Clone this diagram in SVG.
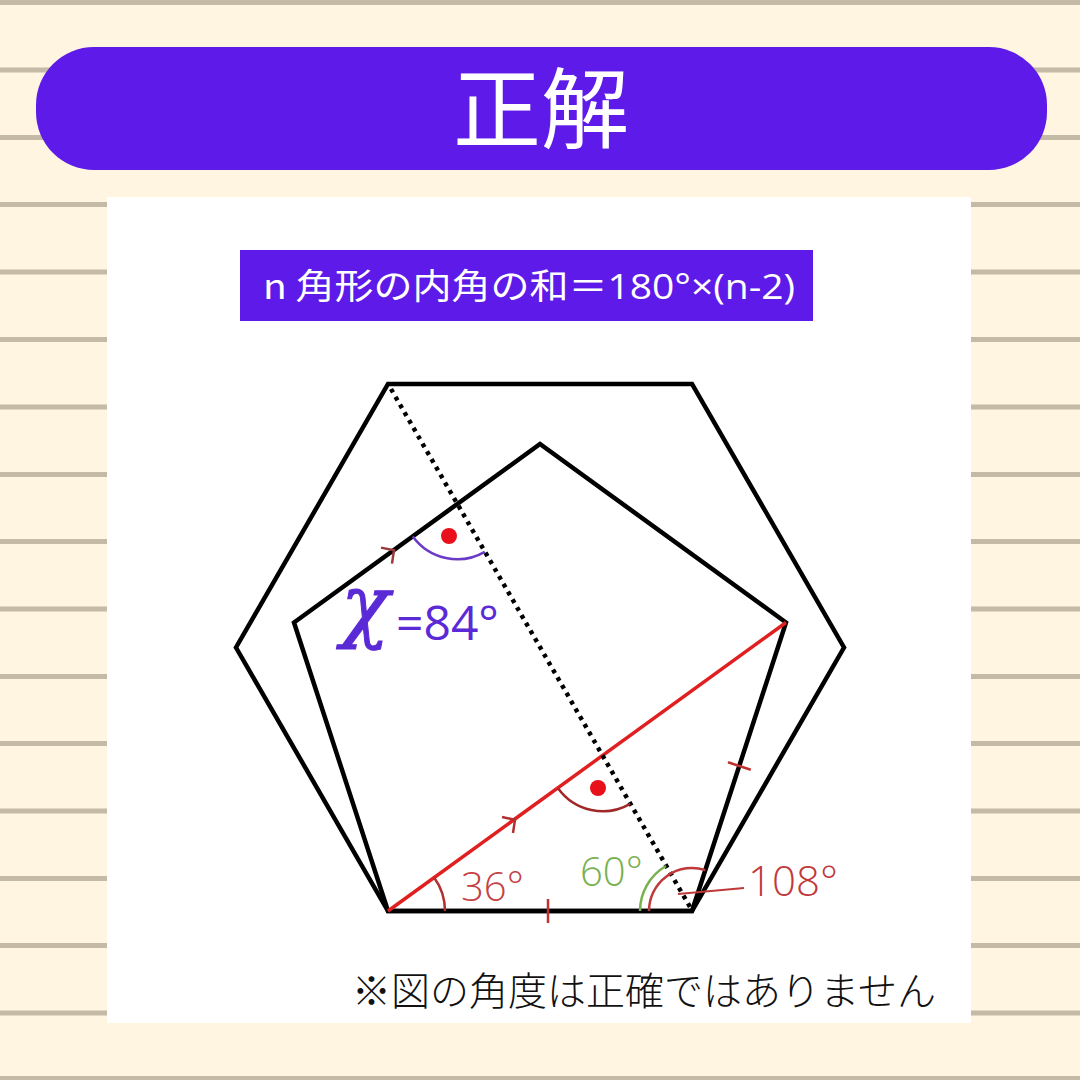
<svg xmlns="http://www.w3.org/2000/svg" width="1080" height="1080" viewBox="0 0 1080 1080">
<defs>
<style>
.stripe{fill:#C4BAA6}
.shape{fill:none;stroke:#000;stroke-width:4.5;stroke-linejoin:miter}
.jp{font-family:"Noto Sans CJK JP","Noto Sans",sans-serif}
.num{font-family:"Open Sans","Noto Sans",sans-serif;font-weight:300}
.mark{fill:none;stroke-linecap:butt}
</style>
</defs>
<rect x="0" y="0" width="1080" height="1080" fill="#FFF5E0"/>
<g id="stripes">
<rect class="stripe" x="0" y="0" width="1080" height="5"/>
<rect class="stripe" x="0" y="67.5" width="1080" height="5"/>
<rect class="stripe" x="0" y="135" width="1080" height="5"/>
<rect class="stripe" x="0" y="202" width="1080" height="5"/>
<rect class="stripe" x="0" y="269.5" width="1080" height="5"/>
<rect class="stripe" x="0" y="337" width="1080" height="5"/>
<rect class="stripe" x="0" y="404.5" width="1080" height="5"/>
<rect class="stripe" x="0" y="472" width="1080" height="5"/>
<rect class="stripe" x="0" y="539" width="1080" height="5"/>
<rect class="stripe" x="0" y="606.5" width="1080" height="5"/>
<rect class="stripe" x="0" y="674" width="1080" height="5"/>
<rect class="stripe" x="0" y="741" width="1080" height="5"/>
<rect class="stripe" x="0" y="808.5" width="1080" height="5"/>
<rect class="stripe" x="0" y="876" width="1080" height="5"/>
<rect class="stripe" x="0" y="943" width="1080" height="5"/>
<rect class="stripe" x="0" y="1010.5" width="1080" height="5"/>
<rect class="stripe" x="0" y="1076" width="1080" height="5"/>
</g>
<g id="banner">
<rect x="36" y="47" width="1011" height="123" rx="58" ry="58" fill="#5E1AE8"/>
<text class="jp" x="541" y="141" font-size="88" fill="#FFFFFF" text-anchor="middle">正解</text>
</g>
<rect id="panel" x="107" y="197" width="864" height="826" fill="#FFFFFF"/>
<g id="formula">
<rect x="240" y="250" width="573" height="71" fill="#5E1AE8"/>
<text class="jp" x="263" y="299" font-size="35" fill="#FFFFFF" textLength="532" lengthAdjust="spacingAndGlyphs">n 角形の内角の和＝<tspan font-family="Open Sans,Noto Sans,sans-serif">180°×(n-2)</tspan></text>
</g>
<g id="hexagon">
<polygon class="shape" points="388,384 692,384 844,647.5 692,911 388,911 236,647.5"/>
</g>
<g id="pentagon">
<polygon class="shape" points="388,911 692,911 786,622.5 540,444 294,622.5"/>
</g>
<g id="connectors">
<line id="diagonal-red" x1="388" y1="911" x2="786" y2="622.5" stroke="#E02020" stroke-width="3.5"/>
<line id="diagonal-dotted" x1="391" y1="389" x2="690" y2="907" stroke="#000" stroke-width="4.5" stroke-dasharray="4 5"/>
<path id="leader-108" d="M678,894 L744,888" stroke="#C03838" stroke-width="2" fill="none"/>
</g>
<g id="marks">
<path class="mark" d="M445,911 A57,57 0 0 0 434.1,877.5" stroke="#B03030" stroke-width="2.5"/>
<path class="mark" d="M640,911 A52,52 0 0 1 666,866" stroke="#78B04E" stroke-width="2.5"/>
<path class="mark" d="M649,911 A43,43 0 0 1 705.3,870.1" stroke="#C03838" stroke-width="2.5"/>
<path class="mark" d="M412.8,536.5 A55,55 0 0 0 484.8,551.8" stroke="#6A3AC8" stroke-width="2.5"/>
<path class="mark" d="M558.2,788.5 A55,55 0 0 0 630.2,803.8" stroke="#A02828" stroke-width="2.5"/>
<path class="mark" d="M502,817 L515,819.7 L513,833" stroke="#B03030" stroke-width="2.5"/>
<path class="mark" d="M381,547.6 L394,550.3 L392,563.6" stroke="#9A3A3A" stroke-width="2.5"/>
<path class="mark" d="M548,899 L548,923" stroke="#C03030" stroke-width="2.5"/>
<path class="mark" d="M728,762.3 L750.8,769.7" stroke="#C03030" stroke-width="2.5"/>
<circle cx="449" cy="536" r="8" fill="#E8101A"/>
<circle cx="598" cy="788" r="8" fill="#E8101A"/>
</g>
<g id="labels">
<text class="num" x="461" y="901" font-size="40" fill="#C5403F">36°</text>
<text class="num" x="580" y="886" font-size="40" fill="#78B04E">60°</text>
<text class="num" x="748" y="896" font-size="42" fill="#C0393B">108°</text>
<text x="341" y="632" font-family="DejaVu Serif,serif" font-style="italic" font-size="80" fill="#5A2AD6" stroke="#5A2AD6" stroke-width="1">χ</text>
<text x="396" y="640" font-family="Open Sans,Noto Sans,sans-serif" font-weight="500" font-size="48" fill="#5A2AD6">=84°</text>
<text class="jp" x="644" y="1005" font-size="39" font-weight="300" fill="#111111" text-anchor="middle">※図の角度は正確ではありません</text>
</g>
</svg>
